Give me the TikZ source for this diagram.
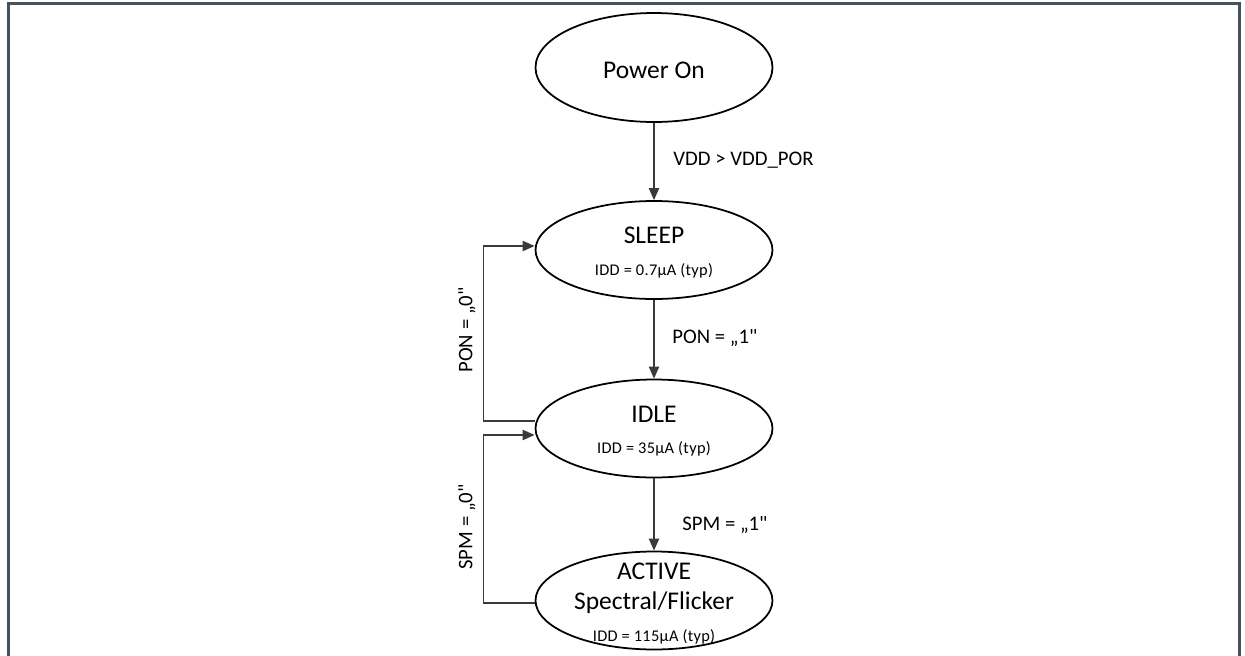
\documentclass[tikz,border=0pt]{standalone}
\usepackage{fontspec}
\setmainfont{Carlito}[Ligatures=TeXOff]
\usetikzlibrary{shapes.geometric,arrows.meta,calc}

\definecolor{framegrey}{HTML}{44525E}
\definecolor{flowgrey}{HTML}{3A3A3A}

\tikzset{
  state/.style={draw, ellipse, line width=1pt, minimum width=4.74cm, minimum height=1.96cm, inner sep=0pt},
  flow/.style={draw=flowgrey, line width=0.85pt, -{Triangle[length=6.8pt,width=5.8pt]}},
  title/.style={font=\fontsize{14.5}{16}\selectfont, anchor=base},
  cond/.style={font=\fontsize{11.8}{13}\selectfont, inner sep=0pt},
  idd/.style={font=\fontsize{9.3}{11}\selectfont\addfontfeatures{LetterSpace=2}, anchor=base}
}

\begin{document}
\begin{tikzpicture}[x=0.02cm, y=-0.02cm]
\useasboundingbox (0,0) rectangle (1245,656);
% frame
\draw[framegrey, line width=1.7pt] (8.5,660) -- (8.5,3.5) -- (1239.5,3.5) -- (1239.5,660);

% states
\node[state, minimum height=2.18cm] (poweron) at (654,67.5) {};
\node[title] (powerontitle) at (654,78) {Power On};

\node[state] (sleep) at (654,250) {};
\node[title] (sleeptitle) at (654,243) {SLEEP};
\node[idd] (sleepidd) at (654,275) {IDD = 0.7µA (typ)};

\node[state] (idle) at (654,428.5) {};
\node[title] (idletitle) at (654,422) {IDLE};
\node[idd] (idleidd) at (654,453) {IDD = 35µA (typ)};

\node[state] (active) at (654,600.5) {};
\node[title] (activetitle) at (654,579) {ACTIVE};
\node[title] (activesub) at (654,609) {Spectral/Flicker};
\node[idd] (activeidd) at (654,641) {IDD = 115µA (typ)};

% transitions
\draw[flow] (poweron) -- (sleep);
\node[cond, anchor=base west] (vddpor) at (673,165) {VDD > VDD\_POR};

\draw[flow] (sleep) -- (idle);
\node[cond, anchor=base west] (ponone) at (672,343) {PON = „1"};

\draw[flow] (idle) -- (active);
\node[cond, anchor=base west] (spmone) at (682,530) {SPM = „1"};

\draw[flow] ($(idle.west)+(0,-7.5)$) -- ++(-51,0) |- ($(sleep.west)+(0,-4)$);
\node[cond, rotate=90] (ponzero) at (467,330) {PON = „0"};

\draw[flow] ($(active.west)+(0,2.5)$) -- ++(-51,0) |- ($(idle.west)+(0,6.5)$);
\node[cond, rotate=90] (spmzero) at (467,527) {SPM = „0"};
\end{tikzpicture}
\end{document}
